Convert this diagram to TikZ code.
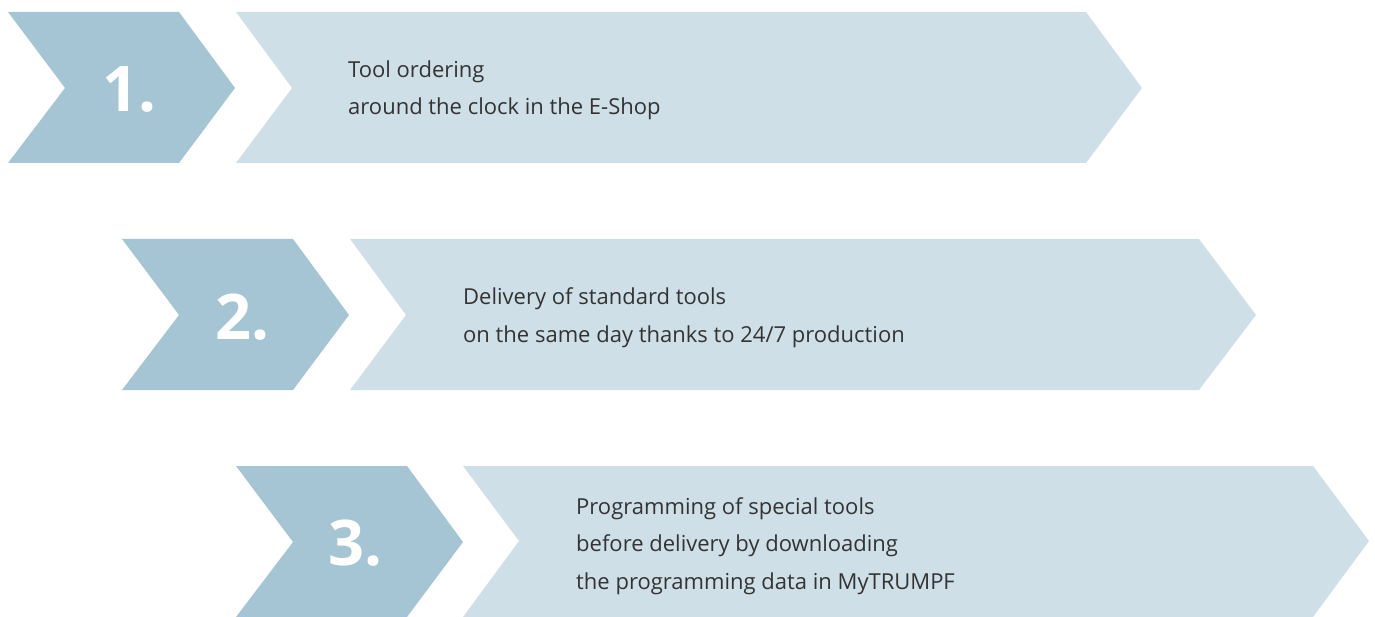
\documentclass[tikz,border=0pt]{standalone}
\usepackage{fontspec}
\setmainfont{Open Sans}
\definecolor{stepdark}{HTML}{A5C5D4}
\definecolor{steplight}{HTML}{CFDFE7}
\definecolor{steptext}{HTML}{333333}
\tikzset{
  numchev/.style={fill=stepdark, draw=none},
  textchev/.style={fill=steplight, draw=none},
  numlabel/.style={anchor=base, text=white, font=\bfseries\fontsize{63}{63}\selectfont, inner sep=0pt},
  desclabel/.style={anchor=base west, text=steptext, font=\fontsize{22}{37.5}\selectfont, inner sep=0pt, align=left},
}
\begin{document}
\begin{tikzpicture}[x=1pt, y=-1pt]
  \useasboundingbox (0,0) rectangle (1375,617);
  % number chevrons, each row shifted right and down
  \foreach \i in {0,1,2} {
    \begin{scope}[shift={(114*\i, 227*\i)}]
      \fill[numchev] (8,12) -- (179,12) -- (235,88) -- (179,163) -- (8,163) -- (65,88) -- cycle;
    \end{scope}
  }
  % long text chevrons
  \fill[textchev] (236,12) -- (1086,12) -- (1142,88) -- (1086,163) -- (236,163) -- (292,88) -- cycle;
  \fill[textchev] (350,239) -- (1199,239) -- (1256,315) -- (1199,390) -- (350,390) -- (406,315) -- cycle;
  \fill[textchev] (463,466) -- (1313,466) -- (1369,541) -- (1313,617) -- (463,617) -- (519,541) -- cycle;

  \node[numlabel] (n1) at (129,112) {1.};
  \node[numlabel] (n2) at (242,339) {2.};
  \node[numlabel] (n3) at (355,565) {3.};

  % the base anchor of a multi-line node sits on its last line
  \node[desclabel] (d1) at (348,115) {Tool ordering\\around the clock in the E-Shop};
  \node[desclabel] (d2) at (463,342) {Delivery of standard tools\\on the same day thanks to 24/7 production};
  \node[desclabel] (d3) at (576,589) {Programming of special tools\\before delivery by downloading\\the programming data in MyTRUMPF};
\end{tikzpicture}
\end{document}
